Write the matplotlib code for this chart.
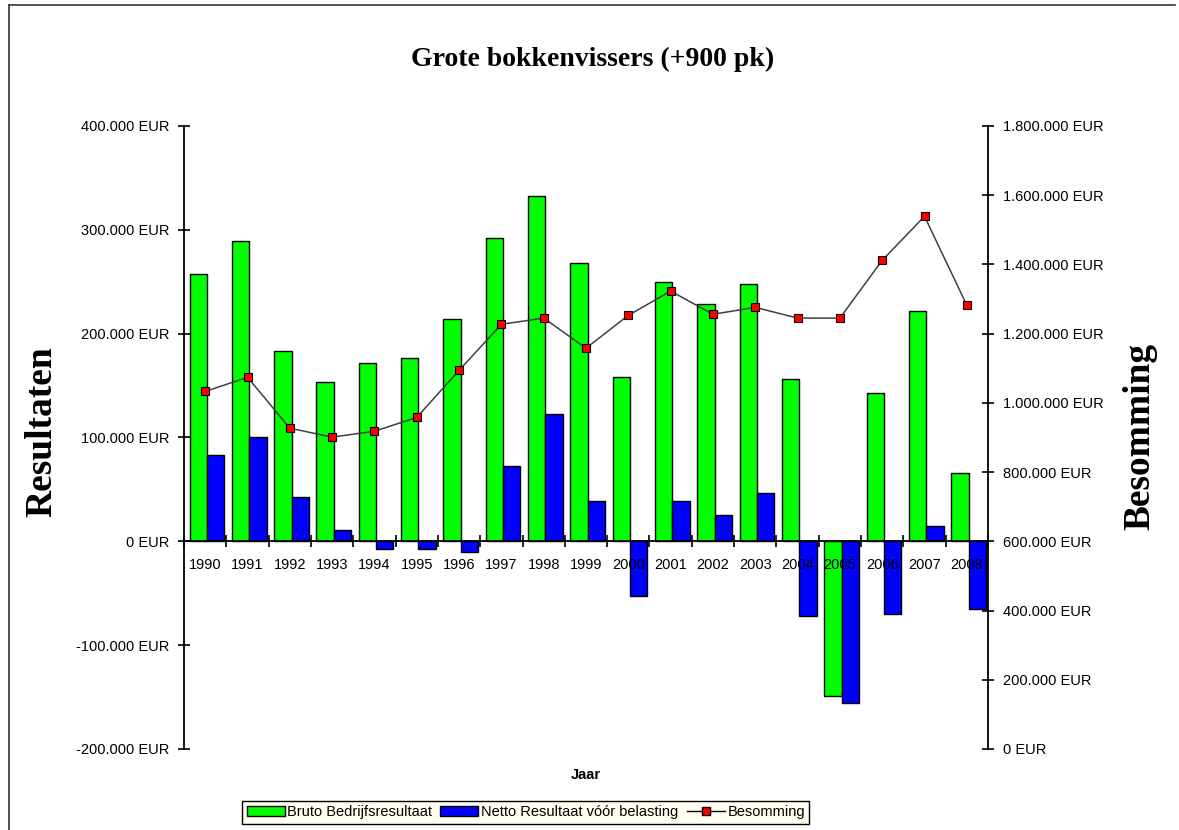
import numpy as np
import matplotlib
matplotlib.use('Agg')
from matplotlib import pyplot
from matplotlib.lines import Line2D
from matplotlib.patches import Patch
from matplotlib.ticker import FuncFormatter, FixedLocator

## data (EUR)
years = [1990, 1991, 1992, 1993, 1994, 1995, 1996, 1997, 1998, 1999,
         2000, 2001, 2002, 2003, 2004, 2005, 2006, 2007, 2008]
bruto = [257000, 289000, 183000, 153000, 172000, 177000, 214000, 292000, 333000, 268000,
         158000, 250000, 229000, 248000, 156000, -149000, 143000, 222000, 66000]
netto = [83000, 100000, 43000, 11000, -7000, -7000, -10000, 73000, 123000, 39000,
         -53000, 39000, 25000, 47000, -72000, -156000, -70000, 15000, -65000]
besomming = [1033000, 1074000, 927000, 901000, 918000, 958000, 1094000, 1227000, 1245000, 1158000,
             1253000, 1323000, 1256000, 1276000, 1245000, 1245000, 1412000, 1539000, 1282000]

left_ticks = [-200000, -100000, 0, 100000, 200000, 300000, 400000]
right_ticks = [0, 200000, 400000, 600000, 800000, 1000000, 1200000, 1400000, 1600000, 1800000]


def eur(v, pos=None):
    s = '{:,.0f}'.format(v).replace(',', '.')
    return s + ' EUR'


pyplot.rcParams['font.family'] = 'Liberation Sans'
pyplot.rcParams['font.size'] = 10.5

fig = pyplot.figure(figsize=(11.79, 8.30), dpi=100)
ax1 = fig.add_axes([0.1561, 0.0976, 0.6819, 0.7506])
ax2 = ax1.twinx()

x = np.arange(len(years))
w = 0.41
off = 0.04
ax1.bar(x - w / 2 + off, bruto, w, color='#00ff00', edgecolor='black', linewidth=1, zorder=1)
ax1.bar(x + w / 2 + off, netto, w, color='#0000ff', edgecolor='black', linewidth=1, zorder=1)

ax1.set_xlim(-0.5, len(years) - 0.5)
ax1.set_ylim(-200000, 400000)
ax1.yaxis.set_major_locator(FixedLocator(left_ticks))
ax1.yaxis.set_major_formatter(FuncFormatter(eur))

# x axis sits on zero, year labels just below, ticks between the years
ax1.spines['bottom'].set_position(('data', 0))
ax1.spines['top'].set_visible(False)
ax1.spines['right'].set_visible(False)
ax1.set_xticks(x)
ax1.set_xticklabels([str(y) for y in years])
ax1.set_xticks(np.arange(-0.5, len(years)), minor=True)
ax1.tick_params(axis='x', which='major', length=0, pad=12, labelsize=10.5)
ax1.tick_params(axis='x', which='minor', direction='inout', length=9, width=1.2)
ax1.tick_params(axis='y', direction='inout', length=9, width=1.2, pad=6)
for sp in ['left', 'bottom']:
    ax1.spines[sp].set_linewidth(1.3)
ax1.set_xlabel('Jaar', fontweight='bold', fontsize=10.5)
ax1.xaxis.set_label_coords(0.5, -0.03)

ax2.plot(x, besomming, color='#404040', linewidth=1.1, marker='s', markersize=5.5,
         markerfacecolor='#ff0000', markeredgecolor='black', markeredgewidth=0.8, zorder=3)
ax2.set_ylim(0, 1800000)
ax2.yaxis.set_major_locator(FixedLocator(right_ticks))
ax2.yaxis.set_major_formatter(FuncFormatter(eur))
ax2.spines['top'].set_visible(False)
ax2.spines['left'].set_visible(False)
ax2.spines['bottom'].set_visible(False)
ax2.spines['right'].set_linewidth(1.3)
ax2.tick_params(axis='y', direction='inout', length=9, width=1.2, pad=6)

# axis titles placed as figure text, like in the original sheet
fig.text(0.0356, 0.4795, 'Resultaten', family='Liberation Serif', fontweight='bold', fontsize=27,
         rotation=90, ha='center', va='center')
fig.text(0.967, 0.474, 'Besomming', family='Liberation Serif', fontweight='bold', fontsize=27,
         rotation=90, ha='center', va='center')

fig.text(0.5025, 0.928, 'Grote bokkenvissers (+900 pk)', family='Liberation Serif',
         fontweight='bold', fontsize=20, ha='center', va='center')

handles = [Patch(facecolor='#00ff00', edgecolor='black'),
           Patch(facecolor='#0000ff', edgecolor='black'),
           Line2D([], [], color='black', linewidth=1, marker='s', markersize=6,
                  markerfacecolor='#ff0000', markeredgecolor='black')]
leg = fig.legend(handles, ['Bruto Bedrijfsresultaat', 'Netto Resultaat vóór belasting', 'Besomming'],
                 loc='center', bbox_to_anchor=(0.446, 0.0215), ncol=3, frameon=True, fancybox=False,
                 fontsize=10.5, handlelength=2.6, handletextpad=0.2, columnspacing=0.55,
                 borderpad=0.3, borderaxespad=0)
leg.get_frame().set_facecolor('#fffdf0')
leg.get_frame().set_edgecolor('black')
leg.get_frame().set_linewidth(1)
leg.get_frame().set_alpha(1)

# page frame (left and top edges visible in the reference)
fig.add_artist(Line2D([9 / 1179, 9 / 1179], [0, 1 - 5 / 830], color='#333333', linewidth=1.2))
fig.add_artist(Line2D([9 / 1179, 1175 / 1179], [1 - 5 / 830, 1 - 5 / 830], color='#333333', linewidth=1.2))

fig.savefig('out.png', dpi=100)
